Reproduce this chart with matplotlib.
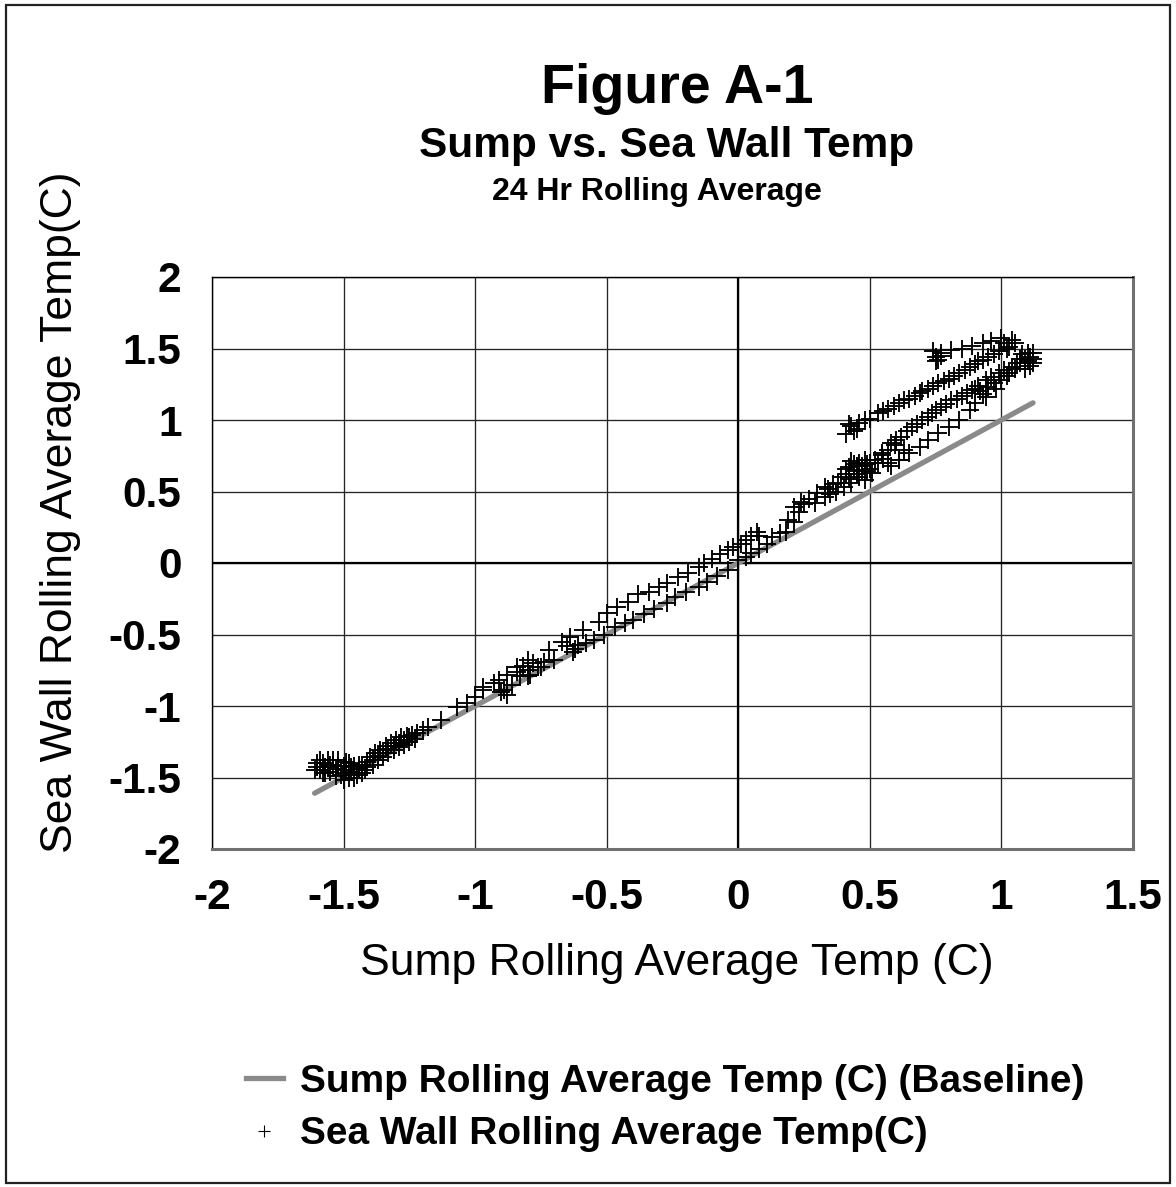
import matplotlib
matplotlib.use('Agg')
import matplotlib.pyplot as plt
from matplotlib.lines import Line2D
from matplotlib.patches import Rectangle

plt.rcParams['font.family'] = ['Liberation Sans', 'DejaVu Sans']

# ---------------- data ----------------
title = "Figure A-1"
subtitle = "Sump vs. Sea Wall Temp"
subsubtitle = "24 Hr Rolling Average"
x_label = "Sump Rolling Average Temp (C)"
y_label = "Sea Wall Rolling Average Temp(C)"
series_names = ["Sump Rolling Average Temp (C) (Baseline)", "Sea Wall Rolling Average Temp(C)"]

x_ticks = [-2, -1.5, -1, -0.5, 0, 0.5, 1, 1.5]
x_tick_labels = ["-2", "-1.5", "-1", "-0.5", "0", "0.5", "1", "1.5"]
y_ticks = [-2, -1.5, -1, -0.5, 0, 0.5, 1, 1.5, 2]
y_tick_labels = ["-2", "-1.5", "-1", "-0.5", "0", "0.5", "1", "1.5", "2"]

# Baseline series (sump vs sump)
baseline_x = [-1.61, -1.30, -1.00, -0.70, -0.40, -0.10, 0.20, 0.50, 0.80, 1.12]
baseline_y = [-1.61, -1.30, -1.00, -0.70, -0.40, -0.10, 0.20, 0.50, 0.80, 1.12]

# Sea wall series, read segment by segment
# lower-left cluster and rise
sw_low_x = [-1.60, -1.60, -1.59, -1.59, -1.58, -1.57, -1.56, -1.55, -1.54, -1.53, -1.52, -1.51,
            -1.50, -1.50, -1.49, -1.48, -1.48, -1.47, -1.46, -1.45, -1.44, -1.43, -1.42, -1.57,
            -1.53, -1.55, -1.41, -1.40, -1.39, -1.38, -1.37, -1.36, -1.35, -1.34, -1.33, -1.32,
            -1.31, -1.30, -1.29, -1.28, -1.27, -1.26, -1.25, -1.24, -1.20, -1.18, -1.13, -1.07,
            -1.03, -1.00, -0.97, -0.93,
            -1.61, -1.58, -1.56, -1.54, -1.52, -1.50, -1.49, -1.47, -1.46, -1.44, -1.43, -1.41,
            -1.39, -1.37, -1.35, -1.33, -1.31, -1.29, -1.27, -1.25, -1.23, -1.22]
sw_low_y = [-1.40, -1.43, -1.38, -1.45, -1.40, -1.43, -1.38, -1.46, -1.41, -1.44, -1.38, -1.48,
            -1.42, -1.52, -1.45, -1.40, -1.50, -1.46, -1.42, -1.48, -1.44, -1.41, -1.45, -1.47,
            -1.49, -1.41, -1.39, -1.36, -1.38, -1.33, -1.35, -1.31, -1.33, -1.28, -1.30, -1.26,
            -1.28, -1.24, -1.26, -1.22, -1.24, -1.21, -1.22, -1.20, -1.17, -1.15, -1.10, -1.01,
            -0.98, -0.94, -0.89, -0.84,
            -1.45, -1.47, -1.43, -1.38, -1.42, -1.47, -1.39, -1.43, -1.50, -1.41, -1.47, -1.43,
            -1.41, -1.38, -1.36, -1.33, -1.31, -1.29, -1.27, -1.25, -1.23, -1.19]

# middle, upper branch
sw_midup_x = [-0.97, -0.91, -0.88, -0.84, -0.80, -0.72, -0.67, -0.64, -0.59, -0.53, -0.50, -0.46,
              -0.42, -0.38, -0.34, -0.30, -0.27, -0.23, -0.19, -0.15, -0.13, -0.10, -0.07, -0.04,
              -0.02, 0.01, 0.03, 0.05, 0.07, 0.08]
sw_midup_y = [-0.87, -0.82, -0.78, -0.73, -0.68, -0.61, -0.55, -0.52, -0.47, -0.41, -0.35, -0.31,
              -0.27, -0.22, -0.20, -0.17, -0.14, -0.10, -0.07, -0.03, 0.00, 0.03, 0.06, 0.09,
              0.11, 0.13, 0.16, 0.19, 0.22, 0.19]

# middle, small cluster between branches
sw_clus_x = [-0.84, -0.82, -0.80, -0.78, -0.76, -0.74, -0.79, -0.83, -0.65, -0.63, -0.61, -0.90, -0.88]
sw_clus_y = [-0.76, -0.72, -0.75, -0.70, -0.73, -0.69, -0.78, -0.79, -0.58, -0.62, -0.57, -0.90, -0.92]

# middle, lower branch (near the baseline)
sw_midlo_x = [-0.89, -0.86, -0.80, -0.75, -0.70, -0.62, -0.58, -0.55, -0.51, -0.47, -0.43, -0.40,
              -0.36, -0.32, -0.27, -0.24, -0.20, -0.15, -0.12, -0.08, -0.04, 0.00, 0.03, 0.05,
              0.08, 0.11, 0.13, 0.16, 0.18, 0.19, 0.21]
sw_midlo_y = [-0.89, -0.85, -0.79, -0.73, -0.68, -0.60, -0.56, -0.54, -0.50, -0.45, -0.42, -0.40,
              -0.36, -0.32, -0.28, -0.24, -0.20, -0.17, -0.13, -0.09, -0.05, 0.02, 0.04, 0.07,
              0.10, 0.13, 0.18, 0.21, 0.22, 0.30, 0.29]

# dense cluster around (0.2..0.6, 0.35..0.8)
sw_dense_x = [0.21, 0.24, 0.23, 0.27, 0.29, 0.30, 0.33, 0.34, 0.37, 0.38, 0.40, 0.42, 0.43, 0.46,
              0.48, 0.44, 0.47, 0.50, 0.51, 0.46, 0.48, 0.43, 0.52, 0.545, 0.57, 0.595, 0.33, 0.25,
              0.35, 0.39, 0.41, 0.45, 0.49, 0.53, 0.55, 0.58, 0.61,
              0.42, 0.45, 0.47, 0.49, 0.50, 0.44, 0.41, 0.36]
sw_dense_y = [0.39, 0.43, 0.36, 0.45, 0.42, 0.49, 0.46, 0.52, 0.50, 0.56, 0.53, 0.59, 0.71, 0.70,
              0.72, 0.64, 0.65, 0.66, 0.63, 0.60, 0.58, 0.56, 0.72, 0.755, 0.79, 0.825, 0.53, 0.41,
              0.48, 0.60, 0.66, 0.68, 0.69, 0.70, 0.73, 0.68, 0.72,
              0.67, 0.62, 0.68, 0.64, 0.70, 0.69, 0.62, 0.55]

# top band (highest diagonal) and top row
sw_band1_x = [0.41, 0.42, 0.43, 0.44, 0.45, 0.46, 0.50, 0.53, 0.57, 0.61, 0.65, 0.69, 0.72, 0.76,
              0.80, 0.84, 0.88, 0.91, 0.95, 0.99, 1.03, 1.04, 1.00, 0.96, 0.93, 0.89, 0.85, 0.81,
              0.77, 0.75, 0.76, 0.74, 1.05, 1.01, 0.75, 0.77,
              0.48, 0.55, 0.59, 0.63, 0.67, 0.70, 0.74, 0.78, 0.82, 0.86, 0.90, 0.93, 0.97, 1.02]
sw_band1_y = [0.90, 0.97, 0.96, 0.92, 0.94, 0.98, 1.01, 1.05, 1.08, 1.12, 1.15, 1.19, 1.22, 1.26,
              1.29, 1.33, 1.37, 1.41, 1.44, 1.48, 1.51, 1.56, 1.57, 1.55, 1.54, 1.52, 1.50, 1.49,
              1.47, 1.44, 1.42, 1.48, 1.54, 1.54, 1.41, 1.45,
              1.00, 1.06, 1.10, 1.14, 1.17, 1.20, 1.24, 1.27, 1.31, 1.35, 1.39, 1.42, 1.46, 1.50]

# middle band (dense) up to the right end
sw_band2_x = [0.545, 0.58, 0.62, 0.66, 0.70, 0.735, 0.77, 0.81, 0.85, 0.89, 0.91, 0.94, 0.96, 0.99,
              1.01, 1.04, 1.07, 1.09, 1.12, 1.12, 1.10, 0.92, 0.95, 0.97, 0.93, 0.98, 1.00, 1.02,
              1.08, 1.10, 1.11, 1.09, 1.12, 1.06, 1.07, 0.60, 0.64, 0.68,
              0.72, 0.75, 0.79, 0.83, 0.87, 0.90, 1.03, 1.05, 1.11]
sw_band2_y = [0.77, 0.84, 0.88, 0.95, 1.00, 1.05, 1.09, 1.14, 1.17, 1.21, 1.24, 1.28, 1.30, 1.33,
              1.35, 1.37, 1.40, 1.43, 1.47, 1.43, 1.41, 1.20, 1.23, 1.26, 1.18, 1.22, 1.28, 1.31,
              1.46, 1.47, 1.38, 1.36, 1.40, 1.40, 1.43, 0.86, 0.92, 0.97,
              1.02, 1.07, 1.11, 1.15, 1.19, 1.22, 1.33, 1.36, 1.44]

# lower sparse band
sw_band3_x = [0.61, 0.65, 0.69, 0.72, 0.76, 0.80, 0.84, 0.88, 0.90, 0.94, 0.57, 0.63]
sw_band3_y = [0.72, 0.77, 0.81, 0.86, 0.91, 0.95, 1.00, 1.07, 1.12, 1.16, 0.70, 0.79]

seawall_x = sw_low_x + sw_midup_x + sw_clus_x + sw_midlo_x + sw_dense_x + sw_band1_x + sw_band2_x + sw_band3_x
seawall_y = sw_low_y + sw_midup_y + sw_clus_y + sw_midlo_y + sw_dense_y + sw_band1_y + sw_band2_y + sw_band3_y

# ---------------- figure ----------------
W, H = 1176, 1187
fig = plt.figure(figsize=(W / 100, H / 100), dpi=100)
fig.patch.set_facecolor('white')

# outer border
fig.patches.append(Rectangle((6 / W, 4 / H), (1170 - 6) / W, (1182 - 4) / H,
                             transform=fig.transFigure, fill=False,
                             edgecolor='#222222', linewidth=1.6))

ax = fig.add_axes([212 / W, 1 - 849 / H, (1133 - 212) / W, (849 - 277) / H])
ax.set_xlim(-2, 1.5)
ax.set_ylim(-2, 2)
ax.set_xticks(x_ticks)
ax.set_xticklabels(x_tick_labels)
ax.set_yticks(y_ticks)
ax.set_yticklabels(y_tick_labels)
ax.tick_params(length=0, labelsize=30.5)
ax.tick_params(axis='x', pad=21)
ax.tick_params(axis='y', pad=22)
for lab in ax.get_xticklabels() + ax.get_yticklabels():
    lab.set_fontweight('bold')

ax.grid(True, color='#252525', linewidth=0.95)
ax.set_axisbelow(True)
ax.axhline(0, color='black', linewidth=1.6, zorder=1.5)
ax.axvline(0, color='black', linewidth=1.6, zorder=1.5)
for s in ['left', 'top']:
    ax.spines[s].set_color('black')
    ax.spines[s].set_linewidth(1.0)
for s in ['right', 'bottom']:
    ax.spines[s].set_color('#707070')
    ax.spines[s].set_linewidth(2.2)

line, = ax.plot(baseline_x, baseline_y, color='#8a8a8a', linewidth=3.8,
                solid_capstyle='round', zorder=2)
pts, = ax.plot(seawall_x, seawall_y, linestyle='none', marker='+', color='black',
               markersize=12.5, markeredgewidth=1.35, zorder=3)

# titles
fig.text(677 / W, 1 - 103 / H, title, ha='center', va='baseline', fontsize=40, fontweight='bold')
fig.text(667 / W, 1 - 157 / H, subtitle, ha='center', va='baseline', fontsize=30.5, fontweight='bold')
fig.text(657 / W, 1 - 200 / H, subsubtitle, ha='center', va='baseline', fontsize=23, fontweight='bold')

# axis labels
fig.text(677 / W, 1 - 963 / H, x_label, ha='center', va='center', fontsize=32)
fig.text(61 / W, 1 - 512 / H, y_label, ha='center', va='center', rotation=90, fontsize=32)

# legend
h1 = Line2D([], [], color='#8a8a8a', linewidth=3.8)
h2 = Line2D([], [], linestyle='none', marker='+', color='black', markersize=9, markeredgewidth=0.8)
leg = fig.legend([h1, h2], series_names, loc='upper left',
                 bbox_to_anchor=(246 / W, 1 - 1064 / H), bbox_transform=fig.transFigure,
                 frameon=False, handlelength=0.95, handletextpad=0.45, labelspacing=0.42,
                 borderpad=0, borderaxespad=0,
                 prop={'size': 28, 'weight': 'bold'})

fig.savefig('out.png', dpi=100)
